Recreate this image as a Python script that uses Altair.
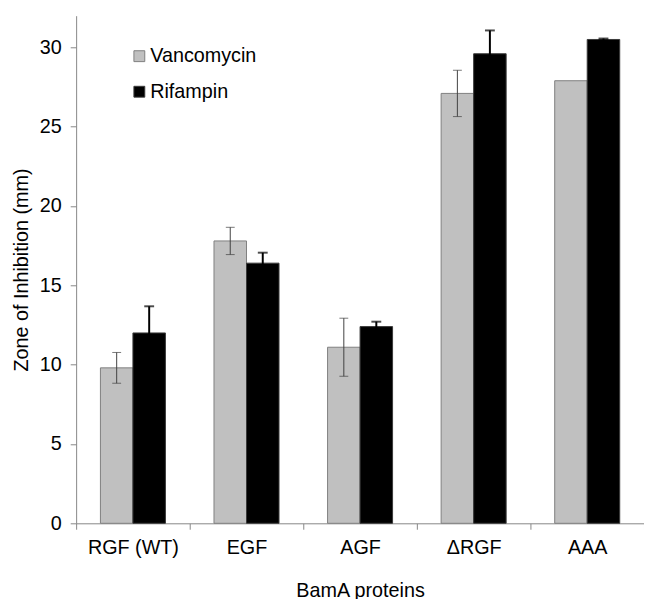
import altair as alt
import pandas as pd

categories = ["RGF (WT)", "EGF", "AGF", "ΔRGF", "AAA"]
antibiotics = ["Vancomycin", "Rifampin"]
vanc = [9.8, 17.8, 11.1, 27.1, 27.9]
vanc_err = [0.97, 0.86, 1.83, 1.46, 0.0]
rif = [12.0, 16.4, 12.4, 29.6, 30.5]
rif_err = [1.68, 0.66, 0.31, 1.47, 0.06]

rows = []
for c, v, e in zip(categories, vanc, vanc_err):
    rows.append({"Protein": c, "Antibiotic": "Vancomycin", "value": v, "err": e})
for c, v, e in zip(categories, rif, rif_err):
    rows.append({"Protein": c, "Antibiotic": "Rifampin", "value": v, "err": e})
df = pd.DataFrame(rows)
df["upper"] = df["value"] + df["err"]
df["lower"] = df["value"] - df["err"]

FONT = "Liberation Sans"
AX = "#868686"

x_enc = alt.X(
    "Protein:N",
    sort=categories,
    scale=alt.Scale(paddingInner=0, paddingOuter=0),
    axis=alt.Axis(
        title="BamA proteins",
        labelAngle=0,
        tickBand="extent",
        tickSize=6,
        labelPadding=9,
        titlePadding=23,
        domainColor=AX,
        tickColor=AX,
        labelColor="#000000",
        titleColor="#000000",
        labelFontSize=20,
        titleFontSize=20,
        titleFontWeight="normal",
        labelFont=FONT,
        titleFont=FONT,
    ),
)
xo_enc = alt.XOffset(
    "Antibiotic:N",
    sort=antibiotics,
    scale=alt.Scale(domain=antibiotics, paddingInner=0, paddingOuter=0.747),
)
y_scale = alt.Scale(domain=[0, 32], nice=False)
y_enc = alt.Y(
    "value:Q",
    scale=y_scale,
    axis=alt.Axis(
        title="Zone of Inhibition (mm)",
        values=[0, 5, 10, 15, 20, 25, 30],
        grid=False,
        tickSize=6,
        labelPadding=9,
        titlePadding=8,
        domainColor=AX,
        tickColor=AX,
        labelColor="#000000",
        titleColor="#000000",
        labelFontSize=20,
        titleFontSize=20,
        titleFontWeight="normal",
        labelFont=FONT,
        titleFont=FONT,
    ),
)

base = alt.Chart(df)

bars = base.mark_bar(strokeWidth=1).encode(
    x=x_enc,
    xOffset=xo_enc,
    y=y_enc,
    color=alt.Color(
        "Antibiotic:N",
        sort=antibiotics,
        scale=alt.Scale(domain=antibiotics, range=["#C0C0C0", "#000000"]),
        legend=alt.Legend(title=None),
    ),
    stroke=alt.Stroke(
        "Antibiotic:N",
        sort=antibiotics,
        scale=alt.Scale(domain=antibiotics, range=["#7F7F7F", "#3A3A3A"]),
        legend=alt.Legend(title=None),
    ),
)

def err_layers(name, color, width, cap):
    b = base.transform_filter(
        (alt.datum.Antibiotic == name) & (alt.datum.err > 0)
    )
    rule = b.mark_rule(color=color, strokeWidth=width).encode(
        x=alt.X("Protein:N", sort=categories),
        xOffset=alt.XOffset("Antibiotic:N", sort=antibiotics),
        y=alt.Y("lower:Q", scale=y_scale),
        y2="upper:Q",
    )
    top = b.mark_tick(color=color, thickness=width, size=cap).encode(
        x=alt.X("Protein:N", sort=categories),
        xOffset=alt.XOffset("Antibiotic:N", sort=antibiotics),
        y=alt.Y("upper:Q", scale=y_scale),
    )
    bot = b.mark_tick(color=color, thickness=width, size=cap).encode(
        x=alt.X("Protein:N", sort=categories),
        xOffset=alt.XOffset("Antibiotic:N", sort=antibiotics),
        y=alt.Y("lower:Q", scale=y_scale),
    )
    return [rule, top, bot]

layers = [bars] + err_layers("Vancomycin", "#404040", 1, 9) + err_layers("Rifampin", "#000000", 2, 10)

chart = (
    alt.layer(*layers)
    .properties(
        width=575,
        height=514,
        autosize=alt.AutoSizeParams(type="none"),
        padding={"left": 69, "top": 4, "right": 0, "bottom": 84},
        background="#FFFFFF",
    )
    .configure_view(strokeOpacity=0)
    .configure_legend(
        orient="none",
        legendX=54,
        legendY=31,
        padding=0,
        labelFont=FONT,
        labelFontSize=20,
        labelColor="#000000",
        symbolType="square",
        symbolSize=121,
        symbolStrokeWidth=1,
        labelOffset=1,
        rowPadding=16,
    )
)

chart.save("out.html", embed_options={"renderer": "svg", "actions": False})
